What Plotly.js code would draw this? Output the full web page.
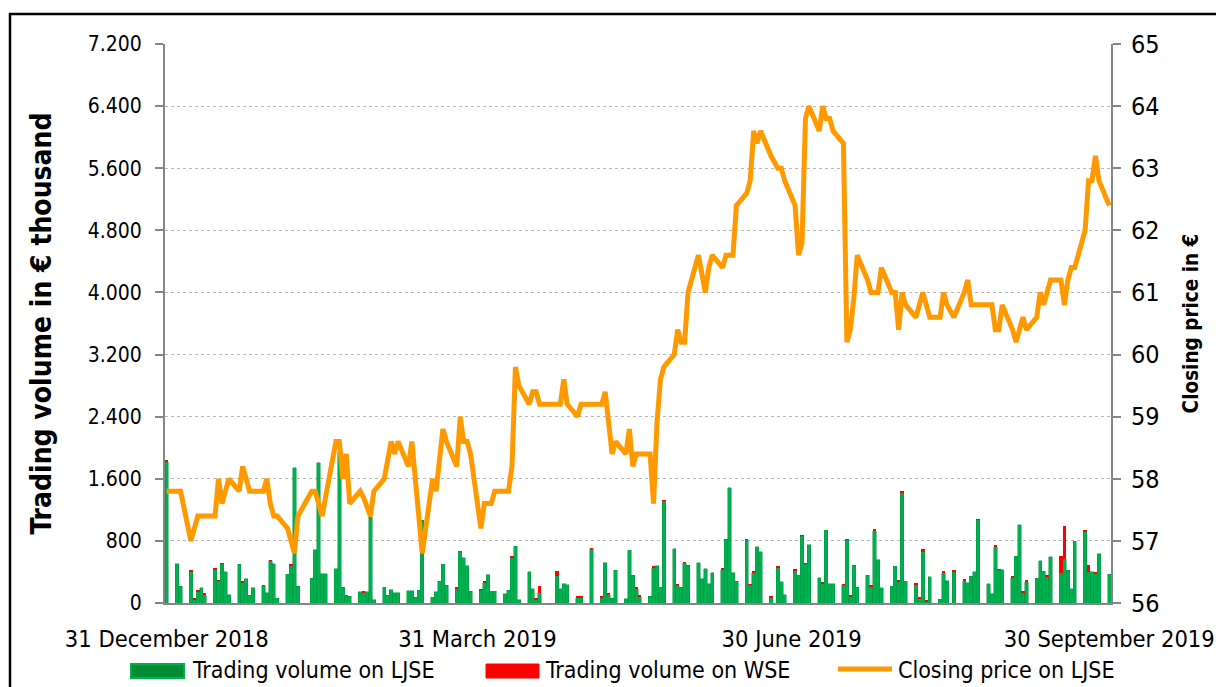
<!DOCTYPE html>
<html>
<head>
<meta charset="utf-8">
<script src="https://cdn.plot.ly/plotly-3.0.1.min.js"></script>
<style>
  html, body { margin: 0; padding: 0; background: #ffffff; }
  #chart { width: 1216px; height: 687px; }
</style>
</head>
<body>
<div id="chart"></div>
<script>
// Trading days (LJSE), 31 Dec 2018 - 30 Sep 2019
const tradingDates = [
  '2018-12-31',
  '2019-01-03','2019-01-04',
  '2019-01-07','2019-01-08','2019-01-09','2019-01-10','2019-01-11',
  '2019-01-14','2019-01-15','2019-01-16','2019-01-17','2019-01-18',
  '2019-01-21','2019-01-22','2019-01-23','2019-01-24','2019-01-25',
  '2019-01-28','2019-01-29','2019-01-30','2019-01-31','2019-02-01',
  '2019-02-04','2019-02-05','2019-02-06','2019-02-07',
  '2019-02-11','2019-02-12','2019-02-13','2019-02-14','2019-02-15',
  '2019-02-18','2019-02-19','2019-02-20','2019-02-21','2019-02-22',
  '2019-02-25','2019-02-26','2019-02-27','2019-02-28','2019-03-01',
  '2019-03-04','2019-03-05','2019-03-06','2019-03-07','2019-03-08',
  '2019-03-11','2019-03-12','2019-03-13','2019-03-14','2019-03-15',
  '2019-03-18','2019-03-19','2019-03-20','2019-03-21','2019-03-22',
  '2019-03-25','2019-03-26','2019-03-27','2019-03-28','2019-03-29',
  '2019-04-01','2019-04-02','2019-04-03','2019-04-04','2019-04-05',
  '2019-04-08','2019-04-09','2019-04-10','2019-04-11','2019-04-12',
  '2019-04-15','2019-04-16','2019-04-17','2019-04-18',
  '2019-04-23','2019-04-24','2019-04-25','2019-04-26',
  '2019-04-29','2019-04-30','2019-05-03',
  '2019-05-06','2019-05-07','2019-05-08','2019-05-09','2019-05-10',
  '2019-05-13','2019-05-14','2019-05-15','2019-05-16','2019-05-17',
  '2019-05-20','2019-05-21','2019-05-22','2019-05-23','2019-05-24',
  '2019-05-27','2019-05-28','2019-05-29','2019-05-30','2019-05-31',
  '2019-06-03','2019-06-04','2019-06-05','2019-06-06','2019-06-07',
  '2019-06-10','2019-06-11','2019-06-12','2019-06-13','2019-06-14',
  '2019-06-17','2019-06-18','2019-06-19','2019-06-20','2019-06-21',
  '2019-06-24','2019-06-26','2019-06-27','2019-06-28',
  '2019-07-01','2019-07-02','2019-07-03','2019-07-04','2019-07-05',
  '2019-07-08','2019-07-09','2019-07-10','2019-07-11','2019-07-12',
  '2019-07-15','2019-07-16','2019-07-17','2019-07-18','2019-07-19',
  '2019-07-22','2019-07-23','2019-07-24','2019-07-25','2019-07-26',
  '2019-07-29','2019-07-30','2019-07-31','2019-08-01','2019-08-02',
  '2019-08-05','2019-08-06','2019-08-07','2019-08-08','2019-08-09',
  '2019-08-12','2019-08-13','2019-08-14','2019-08-16',
  '2019-08-19','2019-08-20','2019-08-21','2019-08-22','2019-08-23',
  '2019-08-26','2019-08-27','2019-08-28','2019-08-29','2019-08-30',
  '2019-09-02','2019-09-03','2019-09-04','2019-09-05','2019-09-06',
  '2019-09-09','2019-09-10','2019-09-11','2019-09-12','2019-09-13',
  '2019-09-16','2019-09-17','2019-09-18','2019-09-19','2019-09-20',
  '2019-09-23','2019-09-24','2019-09-25','2019-09-26','2019-09-27',
  '2019-09-30'
];

// Trading volume on LJSE (EUR thousand)
const volumeLJSE = [
  1820,
  507,215,
  400,45,143,194,109,
  431,281,496,400,107,
  499,260,314,100,194,
  217,130,539,507,60,
  370,479,1741,215,
  322,688,1806,378,378,
  443,1939,200,100,90,
  142,130,142,1109,43,
  206,99,172,129,129,
  155,155,77,163,1066,
  77,142,280,499,228,
  175,667,580,480,150,
  165,260,365,150,150,
  120,163,582,731,40,
  400,185,40,135,
  353,185,250,236,
  70,70,694,
  70,520,109,60,421,
  56,680,357,181,79,
  90,457,477,200,1313,
  700,225,206,510,486,
  520,314,443,250,387,
  431,821,1484,387,280,
  810,230,388,722,658,
  66,453,271,107,
  414,357,861,496,752,
  327,251,937,250,250,
  230,810,79,486,200,
  357,208,930,559,194,
  215,473,272,1420,280,
  238,57,660,14,335,
  47,388,284,401,
  285,258,344,400,1068,
  250,120,724,423,430,
  324,602,1010,130,272,
  322,542,408,337,593,
  387,572,421,185,796,
  917,400,400,380,636,
  370
];

// Trading volume on WSE (EUR thousand)
const volumeWSE = [
  20,
  0,0,
  20,20,20,0,20,
  20,20,20,0,0,
  0,20,0,0,0,
  20,0,20,0,0,
  0,20,0,0,
  0,0,0,0,0,
  0,30,0,0,0,
  0,25,0,0,0,
  0,0,0,0,0,
  0,0,0,0,0,
  0,0,0,0,0,
  25,0,0,0,0,
  20,20,0,0,0,
  0,0,20,0,0,
  0,0,20,80,
  60,0,0,0,
  20,20,20,
  20,0,20,0,0,
  0,0,0,25,20,
  0,20,0,0,20,
  0,25,0,20,0,
  0,0,0,0,0,
  20,0,0,0,0,
  20,20,20,0,0,
  20,20,0,0,
  20,0,20,20,0,
  0,20,0,0,0,
  20,20,20,0,0,
  0,20,20,0,0,
  0,0,20,20,0,
  20,20,40,20,0,
  0,20,0,20,
  20,0,0,0,20,
  0,0,20,20,0,
  20,0,0,20,20,
  0,0,0,20,0,
  215,417,0,0,0,
  20,95,0,20,0,
  0
];

// Closing price on LJSE (EUR)
const closingPrice = [
  57.8,
  57.8,57.8,
  57.0,57.2,57.4,57.4,57.4,
  57.4,58.0,57.6,57.8,58.0,
  57.8,58.2,58.0,57.8,57.8,
  57.8,58.0,57.6,57.4,57.4,
  57.2,57.0,56.8,57.4,
  57.8,57.8,57.6,57.4,57.7,
  58.6,58.6,58.0,58.4,57.6,
  57.8,57.7,57.55,57.4,57.8,
  58.0,58.3,58.6,58.4,58.6,
  58.2,58.6,58.0,57.4,56.8,
  58.0,57.8,58.3,58.8,58.6,
  58.2,59.0,58.6,58.6,58.4,
  57.2,57.6,57.6,57.6,57.8,
  57.8,57.8,58.2,59.8,59.5,
  59.2,59.4,59.4,59.2,
  59.2,59.2,59.6,59.2,
  59.0,59.2,59.2,
  59.2,59.4,58.9,58.4,58.6,
  58.4,58.8,58.2,58.4,58.4,
  58.4,57.6,58.9,59.6,59.8,
  60.0,60.4,60.2,60.2,61.0,
  61.6,61.3,61.0,61.4,61.6,
  61.4,61.6,61.6,61.6,62.4,
  62.6,62.8,63.6,63.4,63.6,
  63.2,63.0,63.0,62.8,
  62.4,61.6,61.8,63.8,64.0,
  63.6,64.0,63.8,63.8,63.6,
  63.4,60.2,60.4,60.9,61.6,
  61.2,61.0,61.0,61.0,61.4,
  61.0,61.0,60.4,61.0,60.8,
  60.6,60.8,61.0,60.8,60.6,
  60.6,61.0,60.8,60.6,
  61.0,61.2,60.8,60.8,60.8,
  60.8,60.8,60.4,60.4,60.8,
  60.4,60.2,60.4,60.6,60.4,
  60.6,61.0,60.8,61.0,61.2,
  61.2,60.8,61.2,61.4,61.4,
  62.0,62.8,62.8,63.2,62.8,
  62.4
];

const xTickVals = ['2018-12-31', '2019-03-31', '2019-06-30', '2019-09-30'];
const xTickText = ['31 December 2018', '31 March 2019', '30 June 2019', '30 September 2019'];

const seriesNames = ['Trading volume on LJSE', 'Trading volume on WSE', 'Closing price on LJSE'];
const seriesColors = ['#00B050', '#FF0000', '#FF9900'];

const FONT = '"DejaVu Sans Condensed", "Liberation Sans", sans-serif';
const DAY = 86400000;
const AXIS = '#868686';

// plot area in pixels: x 165..1111, y 44..603
const PL = 165, PW = 946, PB = 603, PH = 559;
const px = x => (x - PL) / PW;
const py = y => (PB - y) / PH;

const traces = [
  {
    type: 'bar', name: seriesNames[0], x: tradingDates, y: volumeLJSE,
    width: DAY * 1.0,
    marker: { color: seriesColors[0], line: { color: '#009640', width: 0.5 } },
    yaxis: 'y', showlegend: false
  },
  {
    type: 'bar', name: seriesNames[1], x: tradingDates, y: volumeWSE,
    width: DAY * 1.0,
    marker: { color: seriesColors[1], line: { width: 0 } },
    yaxis: 'y', showlegend: false
  },
  {
    type: 'scatter', mode: 'lines', name: seriesNames[2], x: tradingDates, y: closingPrice,
    line: { color: seriesColors[2], width: 5, shape: 'linear' },
    yaxis: 'y2', showlegend: false
  }
];

// legend drawn as shapes + text annotations
const legendY = 669;
const legendShapes = [
  { type: 'rect', xref: 'paper', yref: 'paper', x0: px(131), x1: px(184), y0: py(678), y1: py(664),
    fillcolor: '#008C30', line: { color: seriesColors[0], width: 2 } },
  { type: 'rect', xref: 'paper', yref: 'paper', x0: px(486), x1: px(539), y0: py(678), y1: py(664),
    fillcolor: seriesColors[1], line: { color: seriesColors[1], width: 1 } },
  { type: 'line', xref: 'paper', yref: 'paper', x0: px(838), x1: px(892), y0: py(legendY), y1: py(legendY),
    line: { color: seriesColors[2], width: 5 } }
];
const legendTextX = [190, 543, 896];
const legendAnnotations = seriesNames.map((name, i) => ({
  xref: 'paper', yref: 'paper', x: px(legendTextX[i]), y: py(legendY + 1),
  xanchor: 'left', yanchor: 'middle', showarrow: false, text: name,
  font: { family: FONT, size: 23, color: '#000000' }
}));

const layout = {
  width: 1216, height: 687,
  margin: { l: 165, r: 105, t: 44, b: 84, pad: 0 },
  paper_bgcolor: '#ffffff', plot_bgcolor: '#ffffff',
  separators: ',.',
  barmode: 'stack',
  font: { family: FONT, size: 22, color: '#000000' },
  showlegend: false,
  xaxis: {
    type: 'date',
    range: ['2018-12-30 12:00', '2019-09-30 12:00'],
    tickmode: 'array', tickvals: xTickVals, ticktext: xTickText,
    showgrid: false, zeroline: false,
    showline: true, linecolor: AXIS, linewidth: 2,
    ticks: 'outside', ticklen: 14, tickcolor: 'rgba(0,0,0,0)',
    tickfont: { family: FONT, size: 23.5, color: '#000000' },
    automargin: false, fixedrange: true
  },
  yaxis: {
    range: [0, 7200], tickmode: 'linear', tick0: 0, dtick: 800,
    tickformat: ',d',
    showline: true, linecolor: AXIS, linewidth: 2,
    ticks: 'outside', ticklen: 8, tickwidth: 2, tickcolor: AXIS,
    ticklabelstandoff: 9,
    showgrid: true, gridcolor: '#B8B8B8', griddash: 'dot', gridwidth: 1,
    zeroline: false,
    tickfont: { family: FONT, size: 21, color: '#000000' },
    title: { text: 'Trading volume in € thousand', standoff: 28,
             font: { family: FONT, size: 28, color: '#000000', weight: 700 } },
    automargin: false, fixedrange: true
  },
  yaxis2: {
    overlaying: 'y', side: 'right',
    range: [56, 65], tickmode: 'linear', tick0: 56, dtick: 1,
    showline: true, linecolor: AXIS, linewidth: 2,
    ticks: 'outside', ticklen: 8, tickwidth: 2, tickcolor: AXIS,
    ticklabelstandoff: 5,
    showgrid: false, zeroline: false,
    tickfont: { family: FONT, size: 25, color: '#000000' },
    title: { text: 'Closing price in €', standoff: 25,
             font: { family: FONT, size: 20.5, color: '#000000', weight: 700 } },
    automargin: false, fixedrange: true
  },
  shapes: legendShapes.concat([
    { type: 'rect', xref: 'paper', yref: 'paper', layer: 'above',
      x0: px(10), x1: 1.5, y0: -0.5, y1: py(14),
      line: { color: '#000000', width: 2.5 }, fillcolor: 'rgba(0,0,0,0)' }
  ]),
  annotations: legendAnnotations
};

Plotly.newPlot('chart', traces, layout, { displayModeBar: false, staticPlot: true });
</script>
</body>
</html>
